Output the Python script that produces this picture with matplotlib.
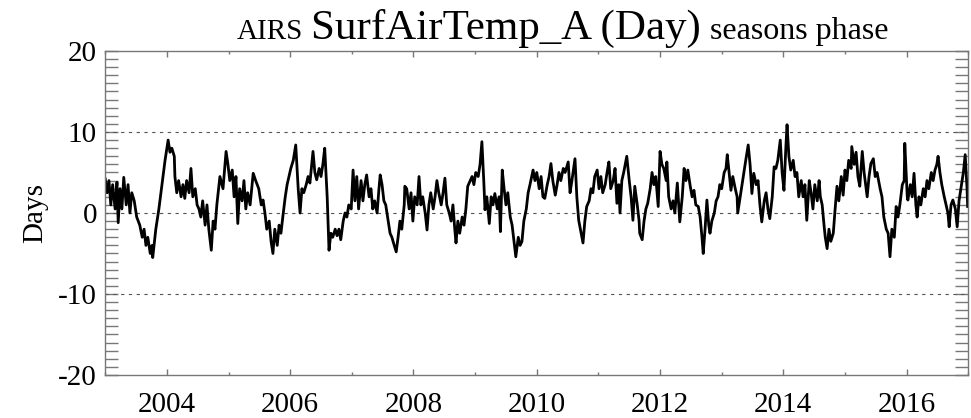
import matplotlib
matplotlib.use("Agg")
from matplotlib import pyplot as plt
from matplotlib.ticker import MultipleLocator

plt.rcParams['font.family'] = ['Liberation Serif', 'DejaVu Serif']
plt.rcParams['axes.unicode_minus'] = False

# decimal year of each sample
years = [
    2003.00, 2003.03, 2003.06, 2003.09, 2003.12, 2003.16, 2003.19, 2003.21, 2003.24, 2003.27,
    2003.30, 2003.34, 2003.37, 2003.40, 2003.43, 2003.47, 2003.51, 2003.56, 2003.60, 2003.63,
    2003.66, 2003.69, 2003.73, 2003.76, 2003.77, 2003.82, 2003.87, 2003.92, 2003.97,
    2004.00, 2004.02, 2004.05, 2004.08, 2004.12, 2004.13, 2004.16, 2004.19, 2004.23, 2004.26,
    2004.29, 2004.32, 2004.36, 2004.39, 2004.42, 2004.46, 2004.49, 2004.52, 2004.55, 2004.58,
    2004.62, 2004.65, 2004.68, 2004.72, 2004.75, 2004.78, 2004.81, 2004.86, 2004.91, 2004.96, 2004.99,
    2005.02, 2005.06, 2005.09, 2005.12, 2005.15, 2005.18, 2005.22, 2005.25, 2005.28, 2005.31,
    2005.35, 2005.40, 2005.44, 2005.49, 2005.53, 2005.56, 2005.59, 2005.62, 2005.66, 2005.69,
    2005.72, 2005.75, 2005.79, 2005.82, 2005.85, 2005.88, 2005.92, 2005.95, 2005.98,
    2006.01, 2006.05, 2006.09, 2006.13, 2006.16, 2006.19, 2006.22, 2006.26, 2006.29, 2006.32,
    2006.35, 2006.37, 2006.40, 2006.43, 2006.47, 2006.50, 2006.53, 2006.56, 2006.60, 2006.63,
    2006.66, 2006.69, 2006.73, 2006.76, 2006.79, 2006.82, 2006.86, 2006.89, 2006.92, 2006.95, 2006.99,
    2007.02, 2007.05, 2007.08, 2007.11, 2007.15, 2007.18, 2007.21, 2007.24, 2007.28, 2007.31,
    2007.34, 2007.37, 2007.41, 2007.44, 2007.46, 2007.49, 2007.52, 2007.55, 2007.59, 2007.62,
    2007.65, 2007.68, 2007.72, 2007.75, 2007.78, 2007.81, 2007.85, 2007.86, 2007.89, 2007.93,
    2007.96, 2007.99,
    2008.02, 2008.06, 2008.09, 2008.12, 2008.15, 2008.19, 2008.22, 2008.25, 2008.28, 2008.32,
    2008.35, 2008.38, 2008.41, 2008.45, 2008.48, 2008.51, 2008.54, 2008.58, 2008.61, 2008.64,
    2008.67, 2008.69, 2008.72, 2008.75, 2008.79, 2008.82, 2008.85, 2008.88, 2008.92, 2008.95, 2008.98,
    2009.01, 2009.05, 2009.08, 2009.11, 2009.14, 2009.16, 2009.19, 2009.23, 2009.26, 2009.29,
    2009.32, 2009.36, 2009.39, 2009.41, 2009.44, 2009.47, 2009.50, 2009.53, 2009.57, 2009.60,
    2009.63, 2009.66, 2009.70, 2009.73, 2009.76, 2009.79, 2009.83, 2009.86, 2009.89, 2009.94, 2009.97,
    2010.00, 2010.04, 2010.07, 2010.10, 2010.13, 2010.17, 2010.20, 2010.23, 2010.26, 2010.30,
    2010.33, 2010.36, 2010.39, 2010.43, 2010.46, 2010.51, 2010.54, 2010.57, 2010.62, 2010.65,
    2010.68, 2010.72, 2010.75, 2010.78, 2010.81, 2010.85, 2010.88, 2010.91, 2010.94, 2010.98,
    2011.01, 2011.04, 2011.07, 2011.11, 2011.14, 2011.17, 2011.20, 2011.24, 2011.27, 2011.30,
    2011.33, 2011.35, 2011.38, 2011.41, 2011.46, 2011.50, 2011.53, 2011.56, 2011.59, 2011.63,
    2011.66, 2011.67, 2011.71, 2011.74, 2011.77, 2011.80, 2011.84, 2011.87, 2011.90, 2011.93, 2011.97,
    2012.00, 2012.03, 2012.06, 2012.10, 2012.11, 2012.14, 2012.18, 2012.21, 2012.24, 2012.28,
    2012.31, 2012.32, 2012.36, 2012.39, 2012.42, 2012.45, 2012.49, 2012.52, 2012.55, 2012.58,
    2012.62, 2012.65, 2012.68, 2012.70, 2012.73, 2012.76, 2012.79, 2012.81, 2012.84, 2012.88,
    2012.91, 2012.94, 2012.97,
    2013.00, 2013.04, 2013.07, 2013.09, 2013.12, 2013.15, 2013.18, 2013.22, 2013.25, 2013.26,
    2013.30, 2013.33, 2013.36, 2013.39, 2013.43, 2013.46, 2013.49, 2013.52, 2013.56, 2013.59,
    2013.62, 2013.65, 2013.69, 2013.72, 2013.75, 2013.78, 2013.82, 2013.85, 2013.88, 2013.91,
    2013.95, 2013.98,
    2014.01, 2014.04, 2014.06, 2014.09, 2014.12, 2014.16, 2014.19, 2014.22, 2014.25, 2014.29,
    2014.32, 2014.35, 2014.38, 2014.42, 2014.45, 2014.48, 2014.51, 2014.55, 2014.58, 2014.60,
    2014.63, 2014.66, 2014.68, 2014.71, 2014.74, 2014.77, 2014.81, 2014.84, 2014.87, 2014.90,
    2014.94, 2014.97,
    2015.00, 2015.03, 2015.06, 2015.10, 2015.11, 2015.15, 2015.18, 2015.21, 2015.24, 2015.28,
    2015.31, 2015.36, 2015.39, 2015.42, 2015.46, 2015.49, 2015.52, 2015.57, 2015.60, 2015.63,
    2015.67, 2015.70, 2015.73, 2015.76, 2015.80, 2015.83, 2015.86, 2015.89, 2015.93, 2015.96, 2015.97,
    2016.01, 2016.02, 2016.06, 2016.09, 2016.12, 2016.15, 2016.17, 2016.20, 2016.23, 2016.27,
    2016.30, 2016.33, 2016.36, 2016.40, 2016.43, 2016.46, 2016.49, 2016.51, 2016.54, 2016.57,
    2016.61, 2016.64, 2016.67, 2016.69, 2016.72, 2016.75, 2016.79, 2016.82, 2016.85, 2016.88,
    2016.92, 2016.95, 2016.98, 2016.99,
]

# seasons phase in days
phase = [
    4.2, 2.5, 4.0, 1.0, 3.5, 0.5, 3.8, -1.2, 3.0, 0.5,
    4.4, 1.0, 3.5, 0.0, 2.5, 1.5, -0.5, -1.5, -3.0, -2.0,
    -4.0, -3.0, -5.0, -4.0, -5.5, -2.0, 0.5, 3.5, 6.5,
    8.0, 9.0, 7.5, 8.0, 7.0, 4.5, 2.5, 4.0, 2.0, 3.5,
    1.8, 4.0, 2.5, 5.5, 2.0, 3.0, 1.0, 0.5, -0.5, 1.5,
    -1.5, 1.0, -2.0, -4.6, -1.0, -2.0, 1.0, 4.5, 3.0, 7.6, 6.0,
    4.0, 5.3, 2.0, 4.5, -1.3, 3.0, 1.5, 4.0, 0.5, 2.5,
    1.0, 4.9, 4.0, 3.0, 1.0, 1.6, 0.0, -2.0, -1.0, -3.5,
    -5.0, -2.0, -4.0, -1.5, -2.5, -0.5, 2.0, 3.5, 4.5,
    5.5, 6.5, 8.4, 3.0, 0.0, 3.0, 2.5, 3.5, 4.5, 3.7,
    6.0, 7.6, 5.0, 4.1, 5.5, 4.5, 6.0, 8.0, 2.0, -4.6,
    -2.5, -3.0, -2.0, -2.8, -2.0, -3.3, -1.0, 0.0, -0.5, 1.0, 0.5,
    5.3, 1.5, 4.5, 0.5, 4.0, 1.5, 3.5, 4.7, 2.0, 3.0,
    0.5, 1.5, 0.0, 3.0, 4.7, 3.5, 1.5, 1.0, -1.0, -2.5,
    -3.0, -3.8, -4.8, -3.0, -1.0, -2.0, 1.0, 3.3, 3.0, 0.5,
    2.5, -1.0,
    2.0, 1.0, 4.5, 1.0, 2.0, 0.0, -2.1, 1.0, 2.5, 0.5,
    2.0, 4.0, 2.5, 1.0, 2.5, 4.3, 1.0, 0.0, -1.0, 1.0,
    -2.0, -3.7, -1.0, -2.5, -0.5, -1.5, 0.5, 3.3, 4.0, 4.5, 3.5,
    5.0, 4.5, 6.0, 8.8, 4.0, 0.4, 2.0, -1.3, 2.0, 1.0,
    2.4, 0.5, 2.0, -2.3, 5.3, 3.0, 1.0, 2.5, -0.5, -1.5,
    -3.5, -5.4, -3.0, -4.0, -3.5, -1.0, 0.5, 2.5, 3.5, 5.3, 4.0,
    5.0, 3.0, 4.5, 2.0, 1.8, 3.5, 4.5, 6.1, 4.0, 2.2,
    3.5, 5.0, 4.0, 5.5, 5.0, 6.3, 2.5, 4.0, 6.7, 2.0,
    -0.9, -2.5, -3.7, -1.0, 0.8, 1.5, 3.0, 2.5, 4.5, 5.3,
    3.0, 4.5, 2.5, 3.5, 5.0, 6.3, 3.0, 4.0, 5.5, 1.2,
    3.5, 0.0, 4.0, 5.0, 7.0, 4.0, 2.0, -0.9, 3.3, 1.0,
    -1.0, -2.5, -3.3, -1.0, 0.5, 1.2, 3.0, 5.0, 3.5, 4.5, 0.8,
    7.6, 6.0, 5.5, 4.0, 6.3, 2.0, 0.5, 1.5, 0.0, 3.7,
    0.0, -1.1, 2.0, 5.5, 4.0, 5.3, 3.3, 2.0, 2.8, 1.0,
    0.8, -0.5, -3.0, -5.0, -2.0, 1.6, -1.5, -2.5, -1.0, 0.0,
    1.5, 2.0, 3.5,
    3.0, 5.0, 5.5, 7.2, 5.0, 2.8, 4.5, 3.0, 2.0, 0.0,
    2.0, 3.5, 5.0, 6.5, 8.4, 6.0, 2.4, 4.9, 3.5, 4.0,
    1.0, -1.1, 1.5, 2.5, 0.5, -0.7, 2.0, 5.7, 5.5, 6.5,
    9.0, 5.0,
    2.8, 8.0, 10.9, 7.0, 5.3, 6.5, 4.5, 5.0, 2.0, 4.0,
    2.0, 3.5, -0.9, 4.0, 2.5, 0.5, 3.5, 1.5, 4.0, 2.0,
    1.0, -1.5, -3.0, -4.4, -2.0, -3.5, -2.5, 0.5, 3.3, 1.5,
    4.5, 2.2,
    5.3, 4.0, 6.5, 5.5, 8.2, 6.0, 7.5, 4.5, 3.3, 7.6,
    5.0, 2.0, 4.5, 6.1, 6.7, 4.5, 5.0, 3.0, 2.0, -0.5,
    -2.0, -2.5, -5.4, -2.0, -3.0, 0.8, -0.5, 1.0, 3.5, 4.0, 8.6,
    2.0, 1.6, 3.5, 2.0, 4.9, 1.0, -0.5, 2.0, 1.0, 3.0,
    2.0, 4.0, 3.0, 5.0, 4.0, 5.3, 6.0, 7.0, 5.0, 3.5,
    2.0, 1.0, 0.0, -1.7, 1.0, 1.6, 0.5, -1.7, 1.5, 3.0,
    5.0, 7.2, 3.0, 0.8,
]

ref_lines = [-10, 0, 10]
axis_grey = '#777777'

fig = plt.figure(figsize=(9.71, 4.18), dpi=100)
ax = fig.add_axes([0.1084, 0.1029, 0.8888, 0.7751])

for yv in ref_lines:
    ax.axhline(yv, color='#555555', lw=0.8, ls=(0, (3, 4)))
ax.plot(years, phase, color='black', lw=2.0)

ax.set_xlim(2003, 2017)
ax.set_ylim(-20, 20)
ax.xaxis.set_major_locator(MultipleLocator(2))
ax.xaxis.set_minor_locator(MultipleLocator(1))
ax.yaxis.set_major_locator(MultipleLocator(10))
ax.yaxis.set_minor_locator(MultipleLocator(1))

ax.tick_params(axis='both', which='both', direction='in', top=True, right=True,
               color=axis_grey, labelcolor='black', labelsize=21, width=1)
ax.tick_params(axis='y', which='both', length=9.5, pad=6)
ax.tick_params(axis='x', which='major', length=4.5, pad=12)
ax.tick_params(axis='x', which='minor', length=2)
for s in ax.spines.values():
    s.set_color(axis_grey)
    s.set_linewidth(1)

ax.set_ylabel('Days', fontsize=21)
ax.yaxis.set_label_coords(-0.0664, 0.5)

# title in three sizes, on one baseline
base_y = 1 - 39 / 418
t1 = fig.text(237 / 971, base_y, 'AIRS', fontsize=21, va='baseline', ha='left')
t2 = fig.text(0, base_y, 'SurfAirTemp_A (Day)', fontsize=31, va='baseline', ha='left')
t3 = fig.text(0, base_y, 'seasons phase', fontsize=23, va='baseline', ha='left')
fig.canvas.draw()
r = fig.canvas.get_renderer()
x2 = t1.get_window_extent(r).x1 + 8
t2.set_x(x2 / fig.bbox.width)
x3 = t2.get_window_extent(r).x1 + 9
t3.set_x(x3 / fig.bbox.width)

fig.savefig('out.png', dpi=100)
